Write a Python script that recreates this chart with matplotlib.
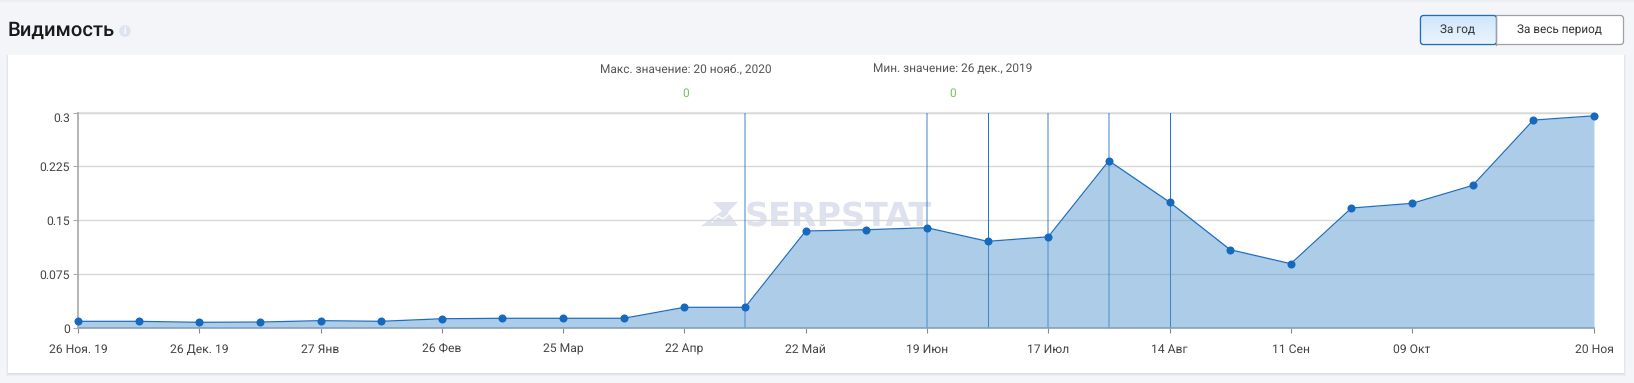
import matplotlib
matplotlib.use("Agg")
import matplotlib.pyplot as plt
import numpy as np
from matplotlib.patches import FancyBboxPatch, Rectangle, Circle, Polygon

plt.rcParams["font.family"] = ["Roboto", "DejaVu Sans"]
plt.rcParams["text.hinting"] = "no_hinting"

W, H = 1634, 383

# Chart data
values = [0.0093, 0.0093, 0.0079, 0.0083, 0.0102, 0.0093, 0.0129, 0.0135, 0.0135, 0.0135,
          0.0288, 0.0288, 0.1350, 0.1368, 0.1396, 0.1206, 0.1270, 0.2328, 0.1753, 0.1090,
          0.0895, 0.1670, 0.1735, 0.1985, 0.2894, 0.2954]
tick_pos = [0, 2, 4, 6, 8, 10, 12, 14, 16, 18, 20, 22, 25]
tick_labels = ["26 Ноя. 19", "26 Дек. 19", "27 Янв", "26 Фев", "25 Мар", "22 Апр", "22 Май",
               "19 Июн", "17 Июл", "14 Авг", "11 Сен", "09 Окт", "20 Ноя"]
y_ticks = [0, 0.075, 0.15, 0.225, 0.3]
y_labels = ["0", "0.075", "0.15", "0.225", "0.3"]
soft_lines = [11, 14, 16, 17]
sharp_lines = [15, 18]

fig = plt.figure(figsize=(W / 100, H / 100), dpi=100, facecolor="#f3f5f9")

# Page layer in pixel coordinates
bg = fig.add_axes([0, 0, 1, 1])
bg.set_xlim(0, W)
bg.set_ylim(H, 0)
bg.axis("off")

bg.add_patch(Rectangle((0, 0), W, 2, color="#eceef4", lw=0))
# card with soft shadow
for grow, col in [(3, "#ebeef5"), (2, "#e2e6f0"), (1, "#d8deea")]:
    bg.add_patch(Rectangle((8 - grow + 1, 55), 1616 + 2 * grow - 2, 318 + grow, color=col, lw=0))
bg.add_patch(Rectangle((8, 55), 1616, 318, color="white", lw=0))

bg.text(8, 30, "Видимость", fontsize=14.6, color="#1a1a1a", va="center", ha="left", fontweight="medium")
bg.add_patch(Circle((125, 31), 5.8, color="#dde3f0", lw=0))
bg.text(125, 31, "i", fontsize=7, color="white", va="center", ha="center", fontweight="bold")

# Period buttons
bg.add_patch(FancyBboxPatch((1420.5, 15.5), 203, 29, boxstyle="round,pad=0,rounding_size=3",
                            fc="white", ec="#a0a0a0", lw=0.9))
active = FancyBboxPatch((1420.5, 15.5), 76, 29, boxstyle="round,pad=0,rounding_size=3",
                        fc="none", ec="#1b6ec2", lw=0.9, zorder=3)
bg.add_patch(active)
grad = bg.imshow(np.linspace(0, 1, 30).reshape(-1, 1), extent=(1420.5, 1496.5, 44.5, 15.5),
                 cmap=matplotlib.colors.LinearSegmentedColormap.from_list("btn", ["#d0e6fb", "#eaf4fd"]),
                 aspect="auto", zorder=2)
grad.set_clip_path(active)
bg.set_xlim(0, W)
bg.set_ylim(H, 0)
bg.plot([1496.5, 1496.5], [15.5, 44.5], color="#a0a0a0", lw=0.9, zorder=4)
bg.text(1458, 30, "За год", fontsize=8.5, color="#333333", va="center", ha="center", zorder=5)
bg.text(1559.7, 30, "За весь период", fontsize=8.5, color="#333333", va="center", ha="center")

# Header stats
bg.text(685.5, 69, "Макс. значение: 20 нояб., 2020", fontsize=8.6, color="#555555", va="center", ha="center")
bg.text(685.5, 93.5, "0", fontsize=8.6, color="#76c05a", va="center", ha="center")
bg.text(952.7, 69, "Мин. значение: 26 дек., 2019", fontsize=8.6, color="#555555", va="center", ha="center")
bg.text(952.7, 93.5, "0", fontsize=8.6, color="#76c05a", va="center", ha="center")

# Watermark
bg.add_patch(Polygon([(713, 202), (738, 202), (728, 212), (738, 226), (701, 226), (722, 211)],
                     closed=True, color="#dde2ee", lw=0))
bg.plot([712, 718, 723, 731, 738], [222, 216, 219, 212, 208], color="white", lw=1)
bg.text(745, 225.5, "SERPSTAT", fontsize=24, fontweight="bold", family="DejaVu Sans",
        color="#dde2ee", ha="left", va="baseline")

# Plot area: x 78-1594, y 112.5-328
ax = fig.add_axes([78 / W, 1 - 328 / H, (1594 - 78) / W, (328 - 112.5) / H])
ax.patch.set_alpha(0)
ax.set_xlim(0, 25)
ax.set_ylim(0, 0.3)
x = list(range(len(values)))

ax.set_yticks(y_ticks)
ax.set_yticklabels(y_labels, fontsize=8.7, color="#444444")
ax.set_xticks(tick_pos)
ax.set_xticklabels(tick_labels, fontsize=8.7, color="#444444", va="baseline")
ax.grid(axis="y", color="#d8d8d8", lw=1.0, zorder=1)
ax.axhline(0.3, color="#e3e3e3", lw=1.5, zorder=1, clip_on=False)
ax.tick_params(axis="y", length=3.6, width=0.8, color="#aaaaaa", pad=2)
ax.tick_params(axis="x", length=3.6, width=0.8, color="#888888", pad=14.4)
ax.get_yticklabels()[-1].set_va("top")

for s in ["top", "right"]:
    ax.spines[s].set_visible(False)
for s in ["left", "bottom"]:
    ax.spines[s].set_color("#a8a8a8")
    ax.spines[s].set_linewidth(1.2)

for m in soft_lines:
    ax.axvline(m, color="#1b6ec2", lw=1.1, alpha=0.55, zorder=2)
for m in sharp_lines:
    ax.axvline(m, color="#1b6ec2", lw=0.75, alpha=0.95, zorder=2)

ax.fill_between(x, values, 0, color="#5b9bd0", alpha=0.5, lw=0, zorder=3)
ax.plot(x, values, color="#1b6ec2", lw=0.9, zorder=4, clip_on=False)
ax.plot(x, values, "o", color="#1569bf", ms=5.8, mew=0, zorder=5, clip_on=False)

fig.savefig("out.png", dpi=100, facecolor=fig.get_facecolor())
